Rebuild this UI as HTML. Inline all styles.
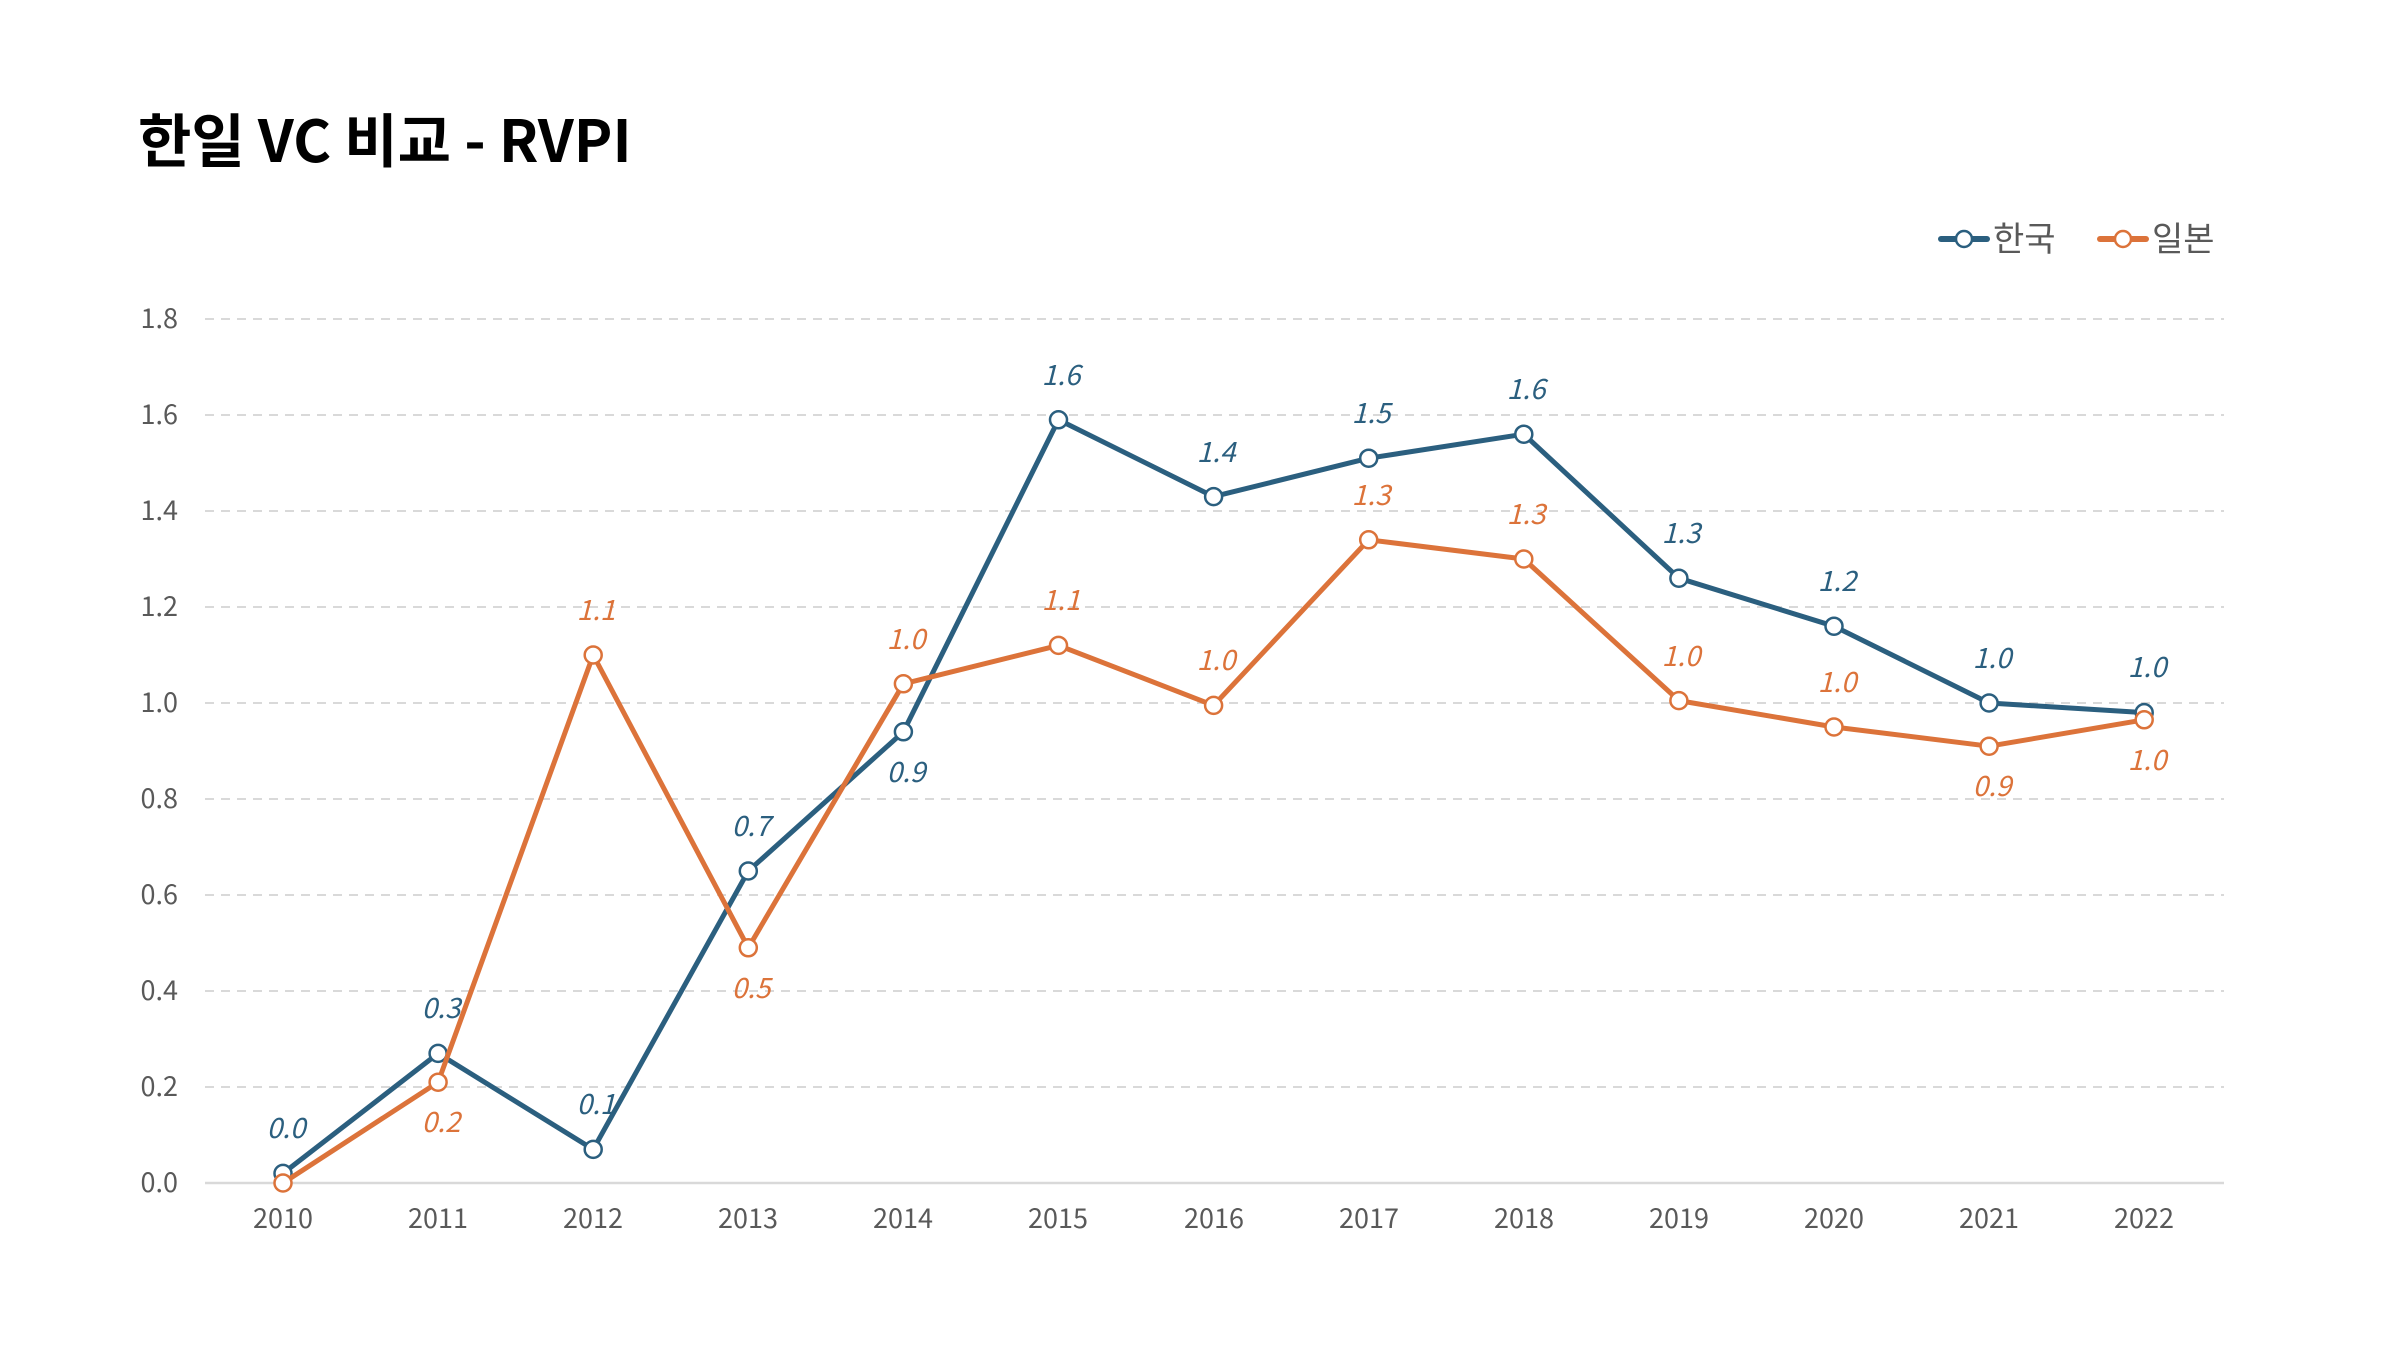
<!DOCTYPE html>
<html><head><meta charset="utf-8"><style>
html,body{margin:0;padding:0;background:#fff;}
svg{display:block;}
text{font-family:"Noto Sans CJK KR","Liberation Sans",sans-serif;}
</style></head><body>
<svg width="2398" height="1350" viewBox="0 0 2398 1350" xmlns="http://www.w3.org/2000/svg">
<text x="138" y="162" font-size="58" font-weight="bold" fill="#000">한일 VC 비교 - RVPI</text>
<!-- legend -->
<g font-size="34" fill="#595959">
<line x1="1941" y1="239" x2="1987" y2="239" stroke="#2b5f7f" stroke-width="6" stroke-linecap="round"/>
<circle cx="1964" cy="239" r="8" fill="#fff" stroke="#2b5f7f" stroke-width="2.5"/>
<text x="1993" y="251">한국</text>
<line x1="2100" y1="239" x2="2146" y2="239" stroke="#dc733a" stroke-width="6" stroke-linecap="round"/>
<circle cx="2123" cy="239" r="8" fill="#fff" stroke="#dc733a" stroke-width="2.5"/>
<text x="2152" y="251">일본</text>
</g>
<!-- grid -->
<g stroke="#d9d9d9" stroke-width="2" stroke-dasharray="9,7">
<line x1="205" y1="1087" x2="2224" y2="1087"/>
<line x1="205" y1="991" x2="2224" y2="991"/>
<line x1="205" y1="895" x2="2224" y2="895"/>
<line x1="205" y1="799" x2="2224" y2="799"/>
<line x1="205" y1="703" x2="2224" y2="703"/>
<line x1="205" y1="607" x2="2224" y2="607"/>
<line x1="205" y1="511" x2="2224" y2="511"/>
<line x1="205" y1="415" x2="2224" y2="415"/>
<line x1="205" y1="319" x2="2224" y2="319"/>
</g>
<line x1="205" y1="1183" x2="2224" y2="1183" stroke="#d9d9d9" stroke-width="2.5"/>
<!-- y labels -->
<g font-size="27" fill="#595959" text-anchor="end">
<text x="178" y="1192">0.0</text>
<text x="178" y="1096">0.2</text>
<text x="178" y="1000">0.4</text>
<text x="178" y="904">0.6</text>
<text x="178" y="808">0.8</text>
<text x="178" y="712">1.0</text>
<text x="178" y="616">1.2</text>
<text x="178" y="520">1.4</text>
<text x="178" y="424">1.6</text>
<text x="178" y="328">1.8</text>
</g>
<!-- x labels -->
<g font-size="27" fill="#595959" text-anchor="middle">
<text x="283" y="1228">2010</text>
<text x="438" y="1228">2011</text>
<text x="593" y="1228">2012</text>
<text x="748" y="1228">2013</text>
<text x="903" y="1228">2014</text>
<text x="1058" y="1228">2015</text>
<text x="1214" y="1228">2016</text>
<text x="1369" y="1228">2017</text>
<text x="1524" y="1228">2018</text>
<text x="1679" y="1228">2019</text>
<text x="1834" y="1228">2020</text>
<text x="1989" y="1228">2021</text>
<text x="2144" y="1228">2022</text>
</g>
<!-- Korea -->
<polyline fill="none" stroke="#2b5f7f" stroke-width="5" stroke-linejoin="round" points="283,1173.4 438.1,1053.4 593.2,1149.4 748.3,871 903.4,731.8 1058.5,419.8 1213.6,496.6 1368.7,458.2 1523.8,434.2 1678.9,578.2 1834,626.2 1989.1,703 2144.2,712.6"/>
<g fill="#fff" stroke="#2b5f7f" stroke-width="2.5">
<circle cx="283" cy="1173.4" r="8.5"/><circle cx="438.1" cy="1053.4" r="8.5"/><circle cx="593.2" cy="1149.4" r="8.5"/><circle cx="748.3" cy="871" r="8.5"/><circle cx="903.4" cy="731.8" r="8.5"/><circle cx="1058.5" cy="419.8" r="8.5"/><circle cx="1213.6" cy="496.6" r="8.5"/><circle cx="1368.7" cy="458.2" r="8.5"/><circle cx="1523.8" cy="434.2" r="8.5"/><circle cx="1678.9" cy="578.2" r="8.5"/><circle cx="1834" cy="626.2" r="8.5"/><circle cx="1989.1" cy="703" r="8.5"/><circle cx="2144.2" cy="712.6" r="8.5"/>
</g>
<!-- Japan -->
<polyline fill="none" stroke="#dc733a" stroke-width="5" stroke-linejoin="round" points="283,1183 438.1,1082.2 593.2,655 748.3,947.8 903.4,683.8 1058.5,645.4 1213.6,705.4 1368.7,539.8 1523.8,559 1678.9,700.6 1834,727 1989.1,746.2 2144.2,719.8"/>
<g fill="#fff" stroke="#dc733a" stroke-width="2.5">
<circle cx="283" cy="1183" r="8.5"/><circle cx="438.1" cy="1082.2" r="8.5"/><circle cx="593.2" cy="655" r="8.5"/><circle cx="748.3" cy="947.8" r="8.5"/><circle cx="903.4" cy="683.8" r="8.5"/><circle cx="1058.5" cy="645.4" r="8.5"/><circle cx="1213.6" cy="705.4" r="8.5"/><circle cx="1368.7" cy="539.8" r="8.5"/><circle cx="1523.8" cy="559" r="8.5"/><circle cx="1678.9" cy="700.6" r="8.5"/><circle cx="1834" cy="727" r="8.5"/><circle cx="1989.1" cy="746.2" r="8.5"/><circle cx="2144.2" cy="719.8" r="8.5"/>
</g>
<!-- Korea labels -->
<g font-size="28" font-style="italic" fill="#2b5f7f" text-anchor="middle">
<text x="286" y="1138">0.0</text>
<text x="441" y="1018">0.3</text>
<text x="596" y="1114">0.1</text>
<text x="751" y="836">0.7</text>
<text x="906" y="782">0.9</text>
<text x="1061" y="385">1.6</text>
<text x="1216" y="462">1.4</text>
<text x="1371" y="423">1.5</text>
<text x="1526" y="399">1.6</text>
<text x="1681" y="543">1.3</text>
<text x="1837" y="591">1.2</text>
<text x="1992" y="668">1.0</text>
<text x="2147" y="677">1.0</text>
</g>
<!-- Japan labels -->
<g font-size="28" font-style="italic" fill="#dc733a" text-anchor="middle">
<text x="441" y="1132">0.2</text>
<text x="596" y="620">1.1</text>
<text x="751" y="998">0.5</text>
<text x="906" y="649">1.0</text>
<text x="1061" y="610">1.1</text>
<text x="1216" y="670">1.0</text>
<text x="1371" y="505">1.3</text>
<text x="1526" y="524">1.3</text>
<text x="1681" y="666">1.0</text>
<text x="1837" y="692">1.0</text>
<text x="1992" y="796">0.9</text>
<text x="2147" y="770">1.0</text>
</g>
</svg>
</body></html>
